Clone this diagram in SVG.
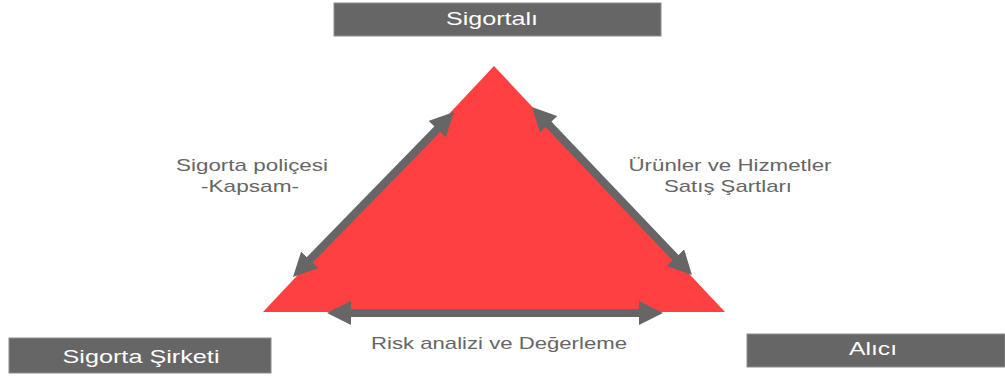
<svg xmlns="http://www.w3.org/2000/svg" width="1005" height="376" viewBox="0 0 1005 376">
<style>
.box{fill:#666666;stroke:#8c8c8c;stroke-width:1}
.bt{font-family:"Liberation Sans",Arial,sans-serif;font-size:19px;fill:#ffffff;text-anchor:middle}
.lb{font-family:"Liberation Sans",Arial,sans-serif;font-size:17px;fill:#666666;text-anchor:middle}
.con{stroke:#666666;stroke-width:8;fill:none;marker-start:url(#ah);marker-end:url(#ah)}
</style>
<defs>
<marker id="ah" viewBox="0 0 10 10" refX="5" refY="5" markerWidth="3" markerHeight="3" orient="auto-start-reverse" markerUnits="strokeWidth">
<path d="M0,0 L10,5 L0,10 z" fill="#666666"/>
</marker>
</defs>
<rect width="1005" height="376" fill="#ffffff"/>
<g id="triangle">
<polygon points="494,66 263,312 725,312" fill="#ff4040"/>
</g>
<g id="connectors">
<line class="con" x1="301.4" y1="268.4" x2="445.6" y2="120.6"/>
<line class="con" x1="540.3" y1="115.7" x2="683.7" y2="266.3"/>
<line class="con" x1="339" y1="313" x2="651" y2="313"/>
</g>
<g id="sigortali">
<rect class="box" x="334" y="3" width="327" height="33"/>
<text class="bt" x="492" y="25" textLength="92" lengthAdjust="spacingAndGlyphs">Sigortalı</text>
</g>
<g id="sigorta-sirketi">
<rect class="box" x="9" y="338" width="262" height="35"/>
<text class="bt" x="141" y="363" textLength="157" lengthAdjust="spacingAndGlyphs">Sigorta Şirketi</text>
</g>
<g id="alici">
<rect class="box" x="747" y="334" width="258" height="33"/>
<text class="bt" x="873" y="355" textLength="48" lengthAdjust="spacingAndGlyphs">Alıcı</text>
</g>
<g id="labels">
<text class="lb" x="252" y="171" textLength="152" lengthAdjust="spacingAndGlyphs">Sigorta poliçesi</text>
<text class="lb" x="250" y="192" textLength="98" lengthAdjust="spacingAndGlyphs">-Kapsam-</text>
<text class="lb" x="730" y="171" textLength="203" lengthAdjust="spacingAndGlyphs">Ürünler ve Hizmetler</text>
<text class="lb" x="728" y="192" textLength="128" lengthAdjust="spacingAndGlyphs">Satış Şartları</text>
<text class="lb" x="499" y="349" textLength="256" lengthAdjust="spacingAndGlyphs">Risk analizi ve Değerleme</text>
</g>
</svg>
